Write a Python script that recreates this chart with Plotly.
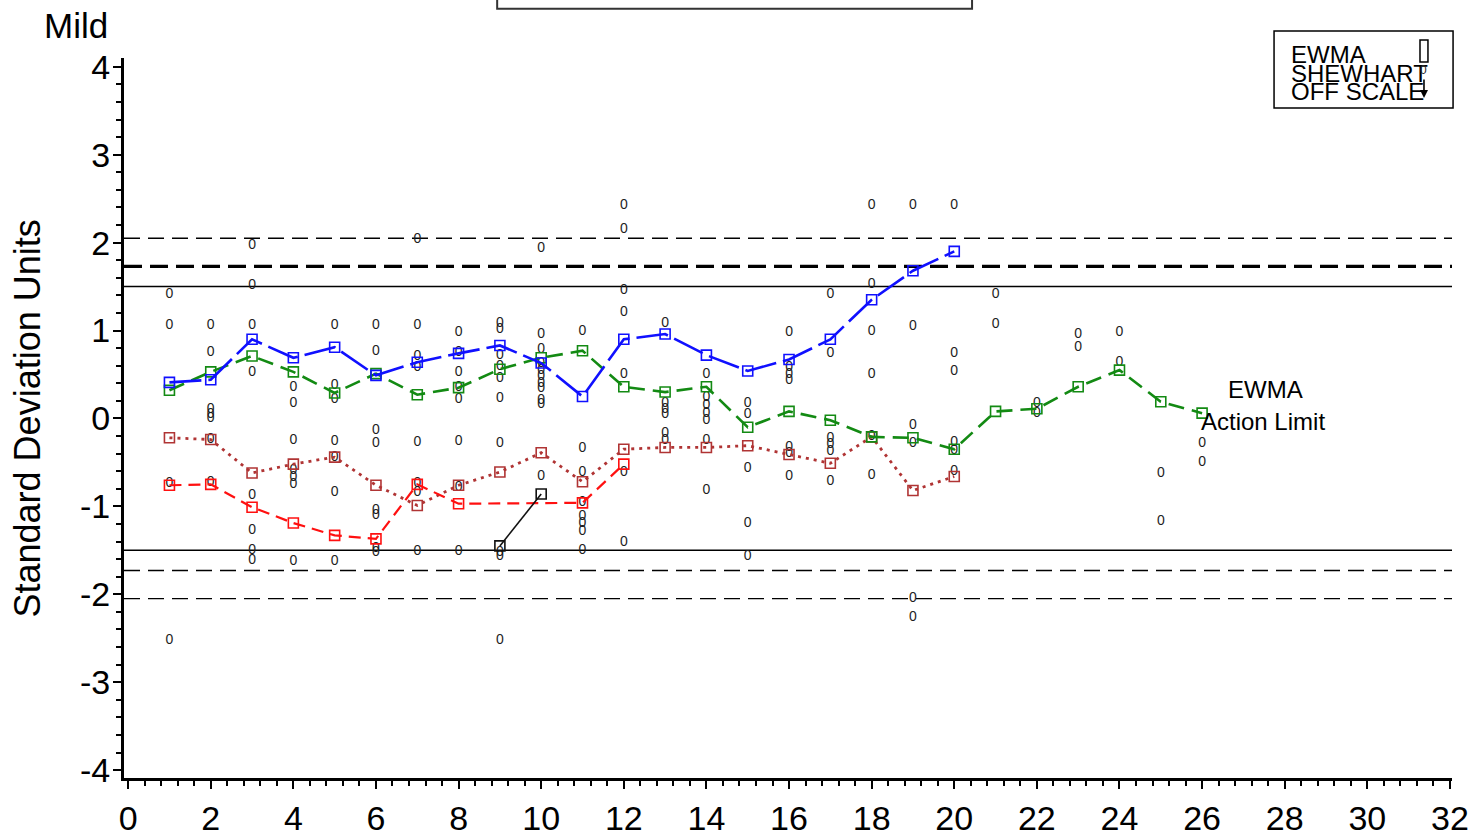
import plotly.graph_objects as go

# ---- data -------------------------------------------------------------
samples_blue = list(range(1, 21))
ewma_blue = [0.41, 0.44, 0.90, 0.69, 0.81, 0.49, 0.64, 0.74, 0.83, 0.63,
             0.25, 0.90, 0.96, 0.72, 0.54, 0.67, 0.90, 1.35, 1.68, 1.90]

samples_green = list(range(1, 27))
ewma_green = [0.32, 0.53, 0.71, 0.53, 0.29, 0.51, 0.27, 0.35, 0.56, 0.69,
              0.77, 0.36, 0.30, 0.36, -0.10, 0.08, -0.02, -0.21, -0.22, -0.35,
              0.08, 0.11, 0.36, 0.55, 0.19, 0.06]

samples_brown = list(range(1, 21))
ewma_brown = [-0.22, -0.24, -0.62, -0.52, -0.44, -0.76, -0.99, -0.76, -0.61, -0.39,
              -0.72, -0.35, -0.33, -0.33, -0.31, -0.41, -0.51, -0.21, -0.82, -0.66]

samples_red = [1, 2, 3, 4, 5, 6, 7, 8, 11, 12]
ewma_red = [-0.76, -0.75, -1.01, -1.19, -1.33, -1.37, -0.75, -0.97, -0.96, -0.52]

samples_black = [9, 10]
ewma_black = [-1.45, -0.86]

# individual Shewhart observations, one list per sample (1..26)
shewhart_values = [
    [1.41, 1.06, -0.74, -2.53],
    [1.06, 0.75, 0.10, 0.05, 0.0, -0.24, -0.73],
    [1.97, 1.51, 1.06, 0.52, -0.88, -1.27, -1.50, -1.62],
    [0.35, 0.17, -0.25, -0.59, -0.67, -0.75, -1.63],
    [1.06, 0.38, 0.22, -0.26, -0.44, -0.84, -1.63],
    [1.06, 0.76, -0.14, -0.28, -1.05, -1.10, -1.48, -1.53],
    [2.04, 1.06, 0.71, 0.58, -0.27, -0.74, -0.84, -1.51],
    [0.98, 0.75, 0.52, 0.35, 0.22, -0.26, -0.78, -1.51],
    [1.08, 1.01, 0.72, 0.59, 0.46, 0.23, -0.28, -1.52, -1.57, -2.53],
    [1.93, 0.96, 0.78, 0.63, 0.55, 0.48, 0.40, 0.34, 0.20, 0.16, -0.66],
    [0.99, -0.34, -0.61, -0.96, -1.11, -1.20, -1.29, -1.50],
    [2.42, 2.15, 1.45, 1.21, 0.50, -0.62, -1.41],
    [1.08, 0.17, 0.10, 0.05, -0.17, -0.25],
    [0.50, 0.24, 0.15, 0.06, -0.02, -0.25, -0.82],
    [0.17, 0.05, -0.57, -1.19, -1.57],
    [0.98, 0.58, 0.50, 0.43, -0.33, -0.40, -0.66],
    [1.41, 0.74, -0.23, -0.30, -0.38, -0.72],
    [2.42, 1.52, 0.99, 0.50, -0.21, -0.65],
    [2.42, 1.05, -0.08, -0.28, -2.05, -2.26],
    [2.42, 0.74, 0.53, -0.27, -0.36, -0.60],
    [1.41, 1.07],
    [0.17, 0.06],
    [0.96, 0.81],
    [0.98, 0.64],
    [-0.63, -1.17],
    [-0.28, -0.50],
]

# control limits (standard deviation units)
shewhart_limit = 2.05
ewma_upper_limit = 1.73
ewma_lower_limit = -1.73
action_limit = 1.5

x_ticks = list(range(0, 33, 2))
y_ticks = list(range(-4, 5))

# ---- figure -----------------------------------------------------------
FONT = "Liberation Sans, Arial, sans-serif"
fig = go.Figure()

shew_x, shew_y = [], []
for i, vals in enumerate(shewhart_values, start=1):
    shew_x += [i] * len(vals)
    shew_y += vals

fig.add_trace(go.Scatter(
    x=shew_x, y=shew_y, mode="text", text=["0"] * len(shew_x),
    textfont=dict(family=FONT, size=14, color="#1e1e1e"),
    hoverinfo="skip", showlegend=False))

def ewma_trace(xs, ys, color, dash, width):
    return go.Scatter(
        x=xs, y=ys, mode="lines+markers",
        line=dict(color=color, dash=dash, width=width),
        marker=dict(symbol="square-open", size=10, color=color,
                    line=dict(width=1.6, color=color)),
        showlegend=False)

fig.add_trace(ewma_trace(samples_brown, ewma_brown, "#b03434", "3px,5px", 2.8))
fig.add_trace(ewma_trace(samples_red, ewma_red, "#ff1010", "12px,7px", 2.2))
fig.add_trace(ewma_trace(samples_green, ewma_green, "#138a13", "16px,8px", 2.6))
fig.add_trace(ewma_trace(samples_blue, ewma_blue, "#1010ff", "32px,7px", 2.6))
fig.add_trace(ewma_trace(samples_black, ewma_black, "#111111", "solid", 1.6))

# horizontal limit lines across the plot
def hline(y, dash, width):
    fig.add_shape(type="line", xref="paper", yref="y", x0=0, x1=1, y0=y, y1=y,
                  line=dict(color="black", width=width, dash=dash), layer="below")

hline(shewhart_limit, "16px,8px", 1.4)
hline(-shewhart_limit, "16px,8px", 1.4)
hline(ewma_upper_limit, "18px,8px", 3.2)
hline(ewma_lower_limit, "16px,8px", 1.4)
hline(action_limit, "solid", 1.4)
hline(-action_limit, "solid", 1.4)

# title box at the top
fig.add_shape(type="rect", xref="paper", yref="paper",
              x0=0.281, x1=0.6386, y0=1.0685, y1=1.25,
              line=dict(color="#333333", width=2))

# legend box
fig.add_shape(type="rect", xref="paper", yref="paper",
              x0=0.866, x1=1.0008, y0=0.9306, y1=1.0375,
              line=dict(color="black", width=1.5))
fig.add_shape(type="rect", xref="paper", yref="paper",
              x0=0.9759, x1=0.9819, y0=0.9944, y1=1.025,
              line=dict(color="black", width=1.5))

legend_font = dict(family=FONT, size=24, color="black")
for label, yp in [("EWMA", 1.0042), ("SHEWHART", 0.9778), ("OFF SCALE", 0.9528)]:
    fig.add_annotation(x=0.8773, y=yp, xref="paper", yref="paper", text=label,
                       showarrow=False, xanchor="left", yanchor="middle",
                       font=legend_font)
fig.add_annotation(x=0.9789, y=0.9833, xref="paper", yref="paper", text="0",
                   showarrow=False, xanchor="center", yanchor="middle",
                   font=dict(family=FONT, size=12, color="#262626"))
fig.add_annotation(x=0.9789, y=0.9444, xref="paper", yref="paper", text="",
                   showarrow=True, ax=0, ay=-20, arrowhead=2, arrowsize=1,
                   arrowwidth=1.6, arrowcolor="black")

# text labels
fig.add_annotation(x=27.53, y=0.33, text="EWMA", showarrow=False,
                   font=dict(family=FONT, size=24, color="black"))
fig.add_annotation(x=27.48, y=-0.04, text="Action Limit", showarrow=False,
                   font=dict(family=FONT, size=24, color="black"))
fig.add_annotation(x=-0.0361, y=1.0458, xref="paper", yref="paper", text="Mild",
                   showarrow=False, xanchor="center", yanchor="middle",
                   font=dict(family=FONT, size=35, color="black"))
fig.add_annotation(x=-0.0723, y=0.4993, xref="paper", yref="paper",
                   text="Standard Deviation Units", textangle=-90, showarrow=False,
                   xanchor="center", yanchor="middle",
                   font=dict(family=FONT, size=36, color="black"))

fig.update_layout(
    width=1474, height=838,
    margin=dict(l=124, r=22, t=58, b=60),
    paper_bgcolor="white", plot_bgcolor="white",
    showlegend=False,
    font=dict(family=FONT, color="black"),
)
fig.update_xaxes(
    range=[-0.1, 32.05], tickmode="array", tickvals=x_ticks,
    ticktext=[str(v) for v in x_ticks], automargin=False,
    showgrid=False, zeroline=False, showline=True, linecolor="black", linewidth=3,
    ticks="outside", ticklen=8, tickwidth=2, tickcolor="black",
    tickfont=dict(family=FONT, size=34, color="black"), ticklabelstandoff=0,
    minor=dict(dtick=0.4, tick0=0, ticks="outside", ticklen=5, tickwidth=1.5,
               tickcolor="black", showgrid=False),
)
fig.update_yaxes(
    range=[-4.09, 4.1], tickmode="array", tickvals=y_ticks,
    ticktext=[str(v) for v in y_ticks], automargin=False,
    showgrid=False, zeroline=False, showline=True, linecolor="black", linewidth=3,
    ticks="outside", ticklen=8, tickwidth=2, tickcolor="black",
    tickfont=dict(family=FONT, size=34, color="black"), ticklabelstandoff=-4,
    minor=dict(dtick=0.2, tick0=0, ticks="outside", ticklen=5, tickwidth=1.5,
               tickcolor="black", showgrid=False),
)

fig.write_html("out.html")
